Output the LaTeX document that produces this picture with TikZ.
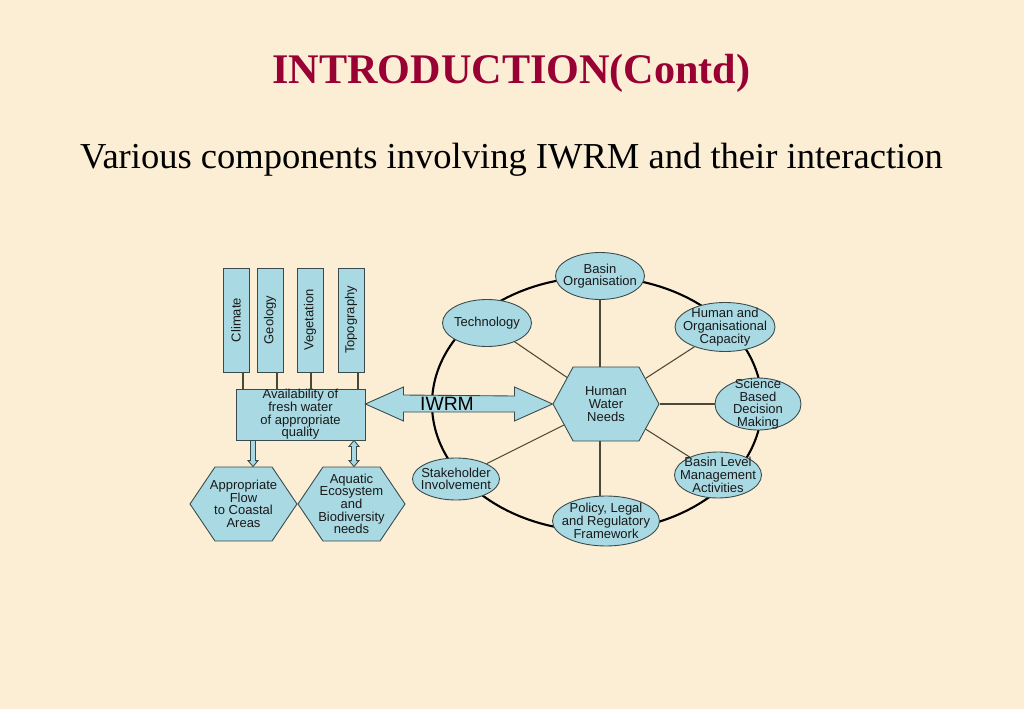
\documentclass[tikz,border=0pt]{standalone}
\usepackage{fontspec}
\usepackage{graphicx}
\setmainfont{Liberation Serif}
\newfontfamily\arialf{Liberation Sans}
\usetikzlibrary{shapes.geometric,shapes.symbols,calc}
\definecolor{bg}{HTML}{FBEED4}
\definecolor{boxfill}{HTML}{A9D9E2}
\definecolor{boxline}{HTML}{3A4A4C}
\definecolor{titlered}{HTML}{990033}
\definecolor{spoke}{HTML}{4A4838}
\newcommand{\pxu}{0.02cm}
\begin{document}
\begin{tikzpicture}[x=0.02cm,y=-0.02cm,
  txt/.style={font=\arialf\fontsize{7.4}{7.2}\selectfont,align=center,inner sep=0pt,text=black!90},
  base/.style={fill=boxfill,draw=boxline,line width=0.5pt,inner sep=0pt},
  bar/.style={base,txt,minimum width=26*\pxu,minimum height=104*\pxu},
  oval/.style={base,ellipse},
  hexa/.style={base,signal,signal to=east and west},
  spokeline/.style={draw=spoke,line width=0.6pt},
  blockarrow/.style={base,line width=0.5pt},
]
\useasboundingbox[fill=bg] (0,0) rectangle (1024,709);

% titles
\node[font=\fontsize{24}{28}\selectfont\bfseries,text=titlered] (title) at (511.5,73) {INTRODUCTION(Contd)};
\node[font=\fontsize{20.8}{24}\selectfont] (subtitle) at (511.5,160) {Various components involving IWRM and their interaction};

% big ring
\draw[line width=1.2pt] (597,404) ellipse [x radius=165*\pxu, y radius=127*\pxu];

% left factors
\node[bar] (clim) at (236,320) {\rotatebox{90}{Climate}};
\node[bar] (geol) at (270,320) {\rotatebox{90}{Geology}};
\node[bar] (vege) at (310,320) {\rotatebox{90}{Vegetation}};
\node[bar] (topo) at (351,320) {\rotatebox{90}{Topography}};

\node[base,txt,minimum width=129*\pxu,minimum height=51*\pxu] (avail) at (300.5,414.5)
  {Availability of\\fresh water\\of appropriate\\quality};

\foreach \n/\dx in {clim/7,geol/7,vege/1,topo/7}
  \draw[spokeline] ([xshift=\dx*\pxu]\n.south) -- ([xshift=\dx*\pxu]\n.south |- avail.north);

\node[hexa,signal pointer angle=112,minimum width=107*\pxu,minimum height=74*\pxu,
  label={[txt]center:Appropriate\\Flow\\to Coastal\\Areas}] (flow) at (243.5,504) {};
\node[hexa,signal pointer angle=112,minimum width=107*\pxu,minimum height=74*\pxu,
  label={[txt]center:Aquatic\\Ecosystem\\and\\Biodiversity\\needs}] (aqua) at (351.5,504) {};

% small arrows
\coordinate (a1) at ($(avail.south)+(-47.5,0)$);
\coordinate (a1e) at (a1 |- flow.north);
\draw[blockarrow] ($(a1)+(-2.5,0)$) -- ($(a1e)+(-2.5,-6)$) -- ++(-2.5,0) -- (a1e) -- ++(5,-6) -- ++(-2.5,0) -- ($(a1)+(2.5,0)$) -- cycle;
\coordinate (a2) at ($(avail.south)+(53.5,0)$);
\coordinate (a2e) at (a2 |- aqua.north);
\draw[blockarrow] (a2) -- ++(5,6) -- ++(-2.5,0) -- ($(a2e)+(2.5,-6)$) -- ++(2.5,0) -- (a2e) -- ++(-5,-6) -- ++(2.5,0) -- ($(a2)+(-2.5,6)$) -- ++(-2.5,0) -- cycle;

% centre
\node[hexa,signal pointer angle=123,minimum width=106*\pxu,minimum height=74*\pxu,
  label={[txt]center:Human\\Water\\Needs}] (hwn) at (606,404) {};

% IWRM double arrow
\coordinate (iwl) at (avail.east |- hwn.west);
\draw[blockarrow] (iwl) -- ++(38,-17) -- ++(0,8) -- ($(hwn.west)+(-38,-8)$) -- ++(0,-9) -- (hwn.west)
  -- ++(-38,17) -- ++(0,-9) -- ($(iwl)+(38,8)$) -- ++(0,9) -- cycle;
\node[font=\arialf\fontsize{11}{12}\selectfont] (iwrm) at (447,404) {IWRM};

% ring members
\node[oval,minimum width=89*\pxu,minimum height=47*\pxu,label={[txt]center:Basin\\Organisation}] (bo) at (600,276) {};
\node[oval,minimum width=89*\pxu,minimum height=47*\pxu,label={[txt]center:Technology}] (tech) at (487,323) {};
\node[oval,minimum width=100*\pxu,minimum height=49*\pxu,label={[txt]center:Human and\\Organisational\\Capacity}] (hoc) at (725,327) {};
\node[oval,minimum width=86*\pxu,minimum height=52*\pxu,label={[txt]center:Science\\Based\\Decision\\Making}] (sci) at (758,404) {};
\node[oval,minimum width=87*\pxu,minimum height=46*\pxu,label={[txt]center:Basin Level\\Management\\Activities}] (blm) at (718,475) {};
\node[oval,minimum width=107*\pxu,minimum height=50*\pxu,label={[txt]center:Policy, Legal\\and Regulatory\\Framework}] (pol) at (606,521) {};
\node[oval,minimum width=87*\pxu,minimum height=42*\pxu,label={[txt]center:Stakeholder\\Involvement}] (stk) at (456,479) {};

% spokes
\draw[spokeline] (bo) -- (bo |- hwn.north);
\draw[spokeline] (pol.north -| bo) -- (bo |- hwn.south);
\draw[spokeline] (hwn) -- (tech);
\draw[spokeline] (hwn) -- (hoc);
\draw[spokeline] (hwn) -- (sci);
\draw[spokeline] (hwn) -- (blm);
\draw[spokeline] (hwn) -- (stk);
\end{tikzpicture}
\end{document}
